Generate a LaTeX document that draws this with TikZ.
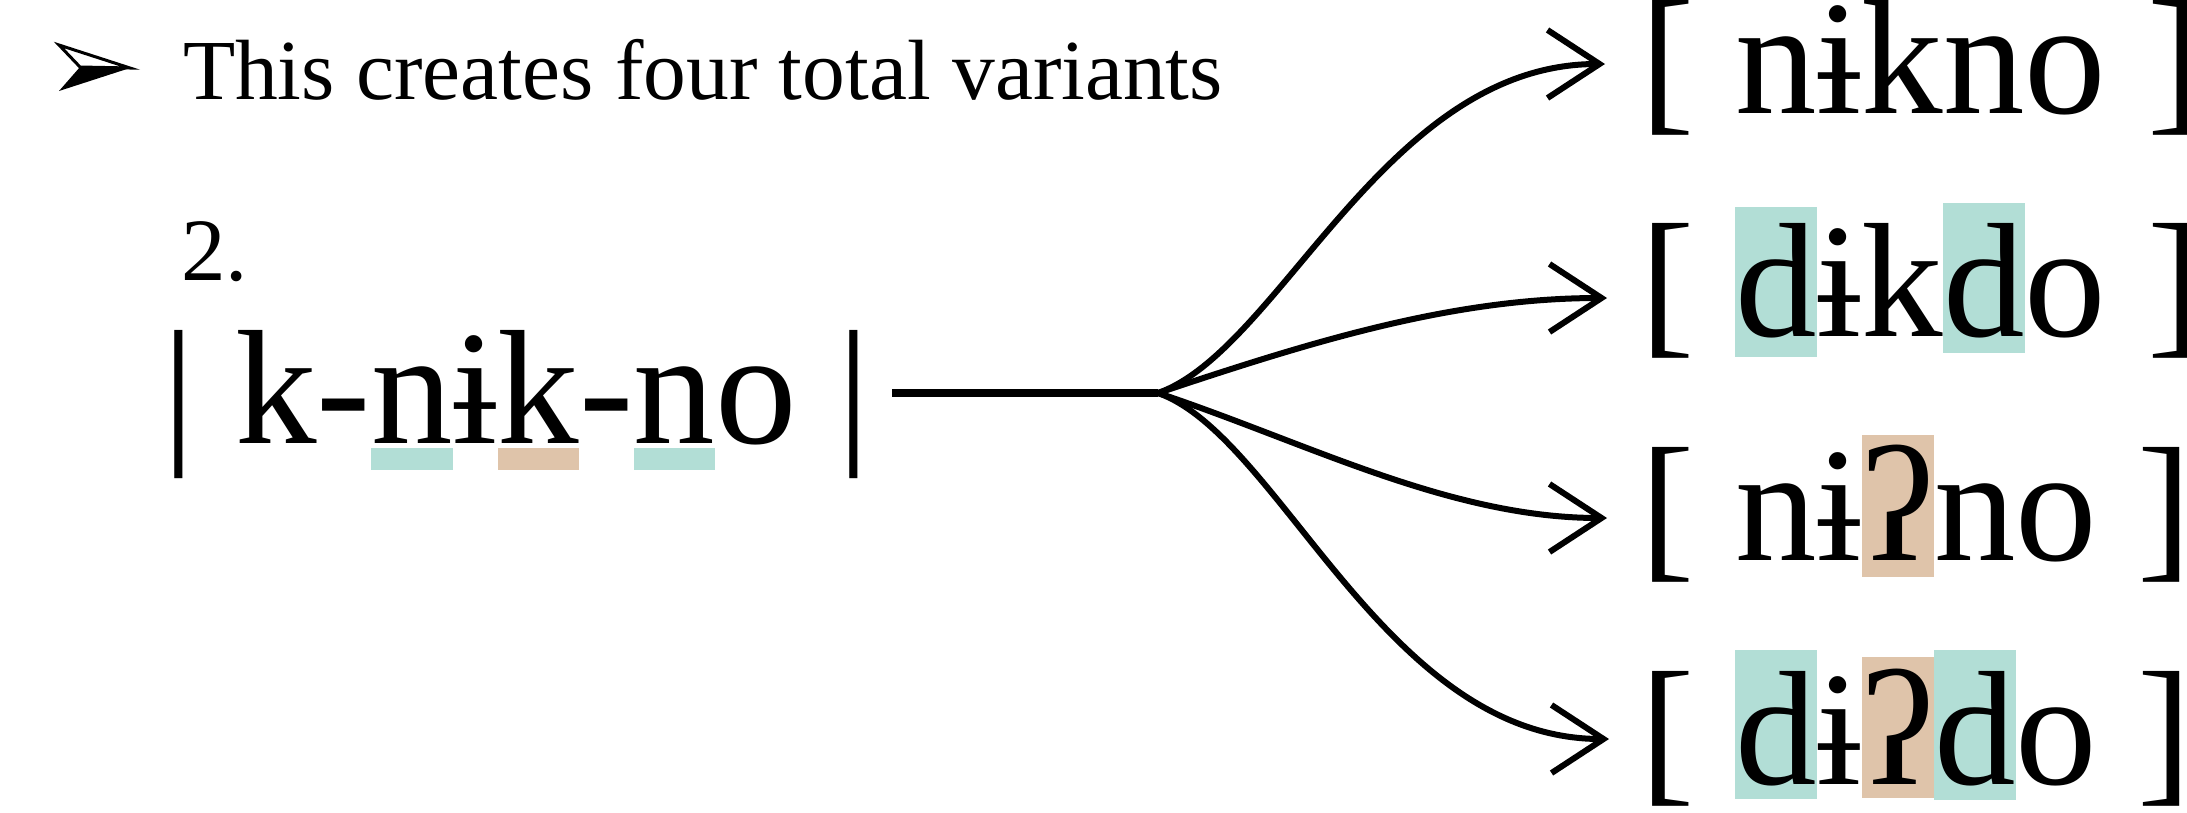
\documentclass[tikz,border=0pt]{standalone}
\usepackage{fontspec}
\setmainfont{Liberation Serif}
\usetikzlibrary{arrows.meta}
\pgfdeclarelayer{bg}
\pgfsetlayers{bg,main}
\definecolor{hlteal}{HTML}{B2DED6}
\definecolor{hltan}{HTML}{DFC4AA}
\begin{document}
\begin{tikzpicture}[x=1pt,y=-1pt,
  big/.style={font=\fontsize{163}{163}\selectfont, inner sep=0pt, outer sep=0pt, anchor=base west},
  small/.style={font=\fontsize{85.5}{90}\selectfont, inner sep=0pt, outer sep=0pt, anchor=base west},
  conn/.style={line width=6pt, -{Straight Barb[length=52pt,width=68pt]}},
  trunk/.style={line width=8pt},
]
\useasboundingbox (0,0) rectangle (2187,812);
% bullet
\fill (80,67) -- (130,68) -- (59,91) -- cycle;
\draw[line width=3pt, line join=miter] (59,45) -- (130,68) -- (80,67) -- cycle;
% header
\node[small] (hdr) at (183,99) {This creates four total variants};
\node[small, font=\fontsize{89}{90}\selectfont] (num) at (181,280) {2.};
% underlying form
\node[big] (u0) at (162,443) {|\ k-};
\node[big] (u1) at (u0.base east) {n};
\node[big] (u2) at (u1.base east) {ɨ};
\node[big] (u3) at (u2.base east) {k};
\node[big] (u4) at (u3.base east) {-};
\node[big] (u5) at (u4.base east) {n};
\node[big] (u6) at (u5.base east) {o\ |};
% output 1
\node[big] (a0) at (1640,113) {[\kern0.25em};
\node[big] (a1) at (a0.base east) {nɨkno};
\node[big] (a2) at (a1.base east) {\ ]};
% output 2
\node[big] (b0) at (1640,336) {[\kern0.25em};
\node[big] (b1) at (b0.base east) {d};
\node[big] (b2) at (b1.base east) {ɨk};
\node[big] (b3) at (b2.base east) {d};
\node[big] (b4) at (b3.base east) {o\ ]};
% output 3
\node[big] (c0) at (1640,560) {[\kern0.25em};
\node[big] (c1) at (c0.base east) {nɨ};
\node[big] (c2) at (c1.base east) {ʔ};
\node[big] (c3) at (c2.base east) {no\ ]};
% output 4
\node[big] (d0) at (1640,784) {[\kern0.25em};
\node[big] (d1) at (d0.base east) {d};
\node[big] (d2) at (d1.base east) {ɨ};
\node[big] (d3) at (d2.base east) {ʔ};
\node[big] (d4) at (d3.base east) {d};
\node[big] (d5) at (d4.base east) {o\ ]};
% highlights
\begin{pgfonlayer}{bg}
\fill[hlteal] ([yshift=-5pt]u1.base west) rectangle ([yshift=-27pt]u1.base east);
\fill[hltan]  ([yshift=-5pt]u3.base west) rectangle ([yshift=-27pt]u3.base east);
\fill[hlteal] ([yshift=-5pt]u5.base west) rectangle ([yshift=-27pt]u5.base east);
\fill[hlteal] ([yshift=129pt]b1.base west) rectangle ([yshift=-21pt]b1.base east);
\fill[hlteal] ([yshift=133pt]b3.base west) rectangle ([yshift=-17pt]b3.base east);
\fill[hltan]  ([yshift=125pt]c2.base west) rectangle ([yshift=-17pt]c2.base east);
\fill[hlteal] ([yshift=134pt]d1.base west) rectangle ([yshift=-15pt]d1.base east);
\fill[hltan]  ([yshift=127pt]d3.base west) rectangle ([yshift=-14pt]d3.base east);
\fill[hlteal] ([yshift=134pt]d4.base west) rectangle ([yshift=-16pt]d4.base east);
\end{pgfonlayer}
% connectors
\coordinate (ls) at (892,393);
\coordinate (br) at (1158,393);
\coordinate (t1) at (1605,64);
\coordinate (t2) at (1607,298);
\coordinate (t3) at (1607,518);
\coordinate (t4) at (1609,739);
\draw[trunk] (ls) -- (br);
\draw[conn] (br) .. controls (1280,350) and (1385,64) .. (t1);
\draw[conn] (br) .. controls (1308,343) and (1450,298) .. (t2);
\draw[conn] (br) .. controls (1308,443) and (1450,518) .. (t3);
\draw[conn] (br) .. controls (1280,436) and (1385,739) .. (t4);
\end{tikzpicture}
\end{document}
